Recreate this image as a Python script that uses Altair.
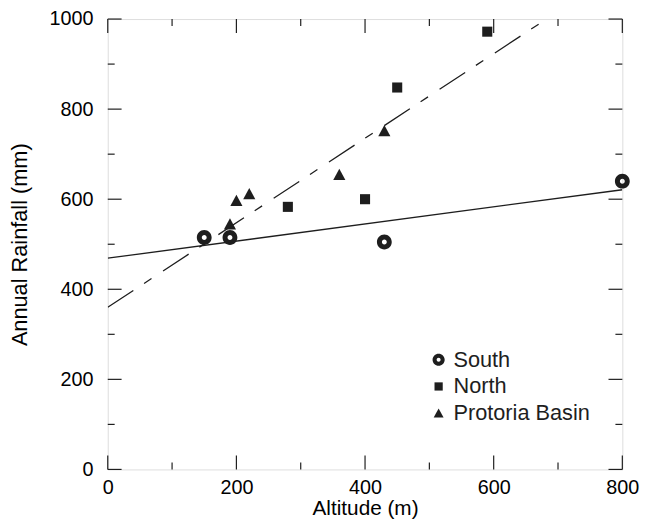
import altair as alt
import pandas as pd

# ---- data ----
groups = ["South", "North", "Protoria Basin"]

south_x = [150, 190, 430, 800]
south_y = [515, 515, 505, 640]
north_x = [280, 400, 450, 590]
north_y = [583, 600, 848, 972]
basin_x = [190, 200, 220, 360, 430]
basin_y = [545, 597, 612, 655, 752]

# regression lines (end points)
solid_x = [0, 800]
solid_y = [469, 621]
dash_x = [0, 682]
dash_y = [360, 1000]

x_major = [0, 200, 400, 600, 800]
x_minor = [100, 300, 500, 700]
y_major = [0, 200, 400, 600, 800, 1000]
y_minor = [100, 300, 500, 700, 900]

# ---- layout / style ----
W, H = 521, 456
FONT = "Liberation Sans"
INK = "#1e1e1e"
MAJ, MIN = 14, 7

ring = ("M-1,0A1,1,0,1,0,1,0A1,1,0,1,0,-1,0Z "
        "M-0.33,0A0.33,0.33,0,1,1,0.33,0A0.33,0.33,0,1,1,-0.33,0Z")
square = "M-0.68,-0.68H0.68V0.68H-0.68Z"
tri = "M0,-0.78L0.82,0.74L-0.82,0.74Z"

pts = pd.DataFrame({
    "x": south_x + north_x + basin_x,
    "y": south_y + north_y + basin_y,
    "group": ["South"] * len(south_x) + ["North"] * len(north_x)
    + ["Protoria Basin"] * len(basin_x),
})
lines_solid = pd.DataFrame({"x": solid_x, "y": solid_y})
lines_dash = pd.DataFrame({"x": dash_x, "y": dash_y})

xscale = alt.Scale(domain=[0, 800], nice=False, zero=False)
yscale = alt.Scale(domain=[0, 1000], nice=False, zero=False)

xaxis = alt.Axis(title="Altitude (m)", values=x_major, format="d", ticks=False,
                 domain=False, grid=False, labelPadding=8, titlePadding=1,
                 labelFlush=False, labelFontSize=20, titleFontSize=21,
                 titleFontWeight="normal")
yaxis = alt.Axis(title="Annual Rainfall (mm)", values=y_major, format="d", ticks=False,
                 domain=False, grid=False, labelPadding=15, titlePadding=18,
                 labelFlush=False, labelFontSize=20, titleFontSize=22,
                 titleFontWeight="normal")


def X(f):
    return alt.X(f, scale=xscale, axis=xaxis)


def Y(f):
    return alt.Y(f, scale=yscale, axis=yaxis)


points = alt.Chart(pts).mark_point(filled=True, color=INK, opacity=1, size=225).encode(
    x=X("x:Q"),
    y=Y("y:Q"),
    shape=alt.Shape("group:N", scale=alt.Scale(domain=groups, range=[ring, square, tri]),
                    legend=alt.Legend(title=None, orient="none", legendX=324, legendY=334,
                                      labelFontSize=22, labelFont=FONT, labelColor=INK,
                                      symbolSize=150, symbolFillColor=INK,
                                      symbolStrokeWidth=0, labelOffset=4,
                                      rowPadding=5, padding=0)),
)

solid = alt.Chart(lines_solid).mark_line(color=INK, strokeWidth=1.3, clip=True).encode(
    x=X("x:Q"), y=Y("y:Q"))
dashed = alt.Chart(lines_dash).mark_line(color=INK, strokeWidth=1.3, clip=True,
                                          strokeDash=[31, 13, 9, 14]).encode(
    x=X("x:Q"), y=Y("y:Q"))

tick_layers = []
for vals, ln in [(x_major, MAJ), (x_minor, MIN)]:
    d = pd.DataFrame({"v": vals})
    tick_layers.append(alt.Chart(d).mark_rule(color=INK, strokeWidth=1.2).encode(
        x=X("v:Q"), y=alt.value(0), y2=alt.value(ln)))
    tick_layers.append(alt.Chart(d).mark_rule(color=INK, strokeWidth=1.2).encode(
        x=X("v:Q"), y=alt.value(H), y2=alt.value(H - ln)))
for vals, ln in [(y_major, MAJ), (y_minor, MIN)]:
    d = pd.DataFrame({"v": vals})
    tick_layers.append(alt.Chart(d).mark_rule(color=INK, strokeWidth=1.2).encode(
        y=Y("v:Q"), x=alt.value(0), x2=alt.value(ln)))
    tick_layers.append(alt.Chart(d).mark_rule(color=INK, strokeWidth=1.2).encode(
        y=Y("v:Q"), x=alt.value(W), x2=alt.value(W - ln)))

chart = alt.layer(solid, dashed, *tick_layers, points).properties(
    width=W, height=H,
    autosize=alt.AutoSizeParams(type="none"),
    padding={"left": 101, "top": 8, "right": 27, "bottom": 47},
).configure_view(stroke=INK, strokeWidth=1.4).configure_axis(
    labelFont=FONT, titleFont=FONT, labelColor=INK, titleColor=INK,
).configure(background="white")

chart.save("out.html", embed_options={"renderer": "svg", "actions": False})
